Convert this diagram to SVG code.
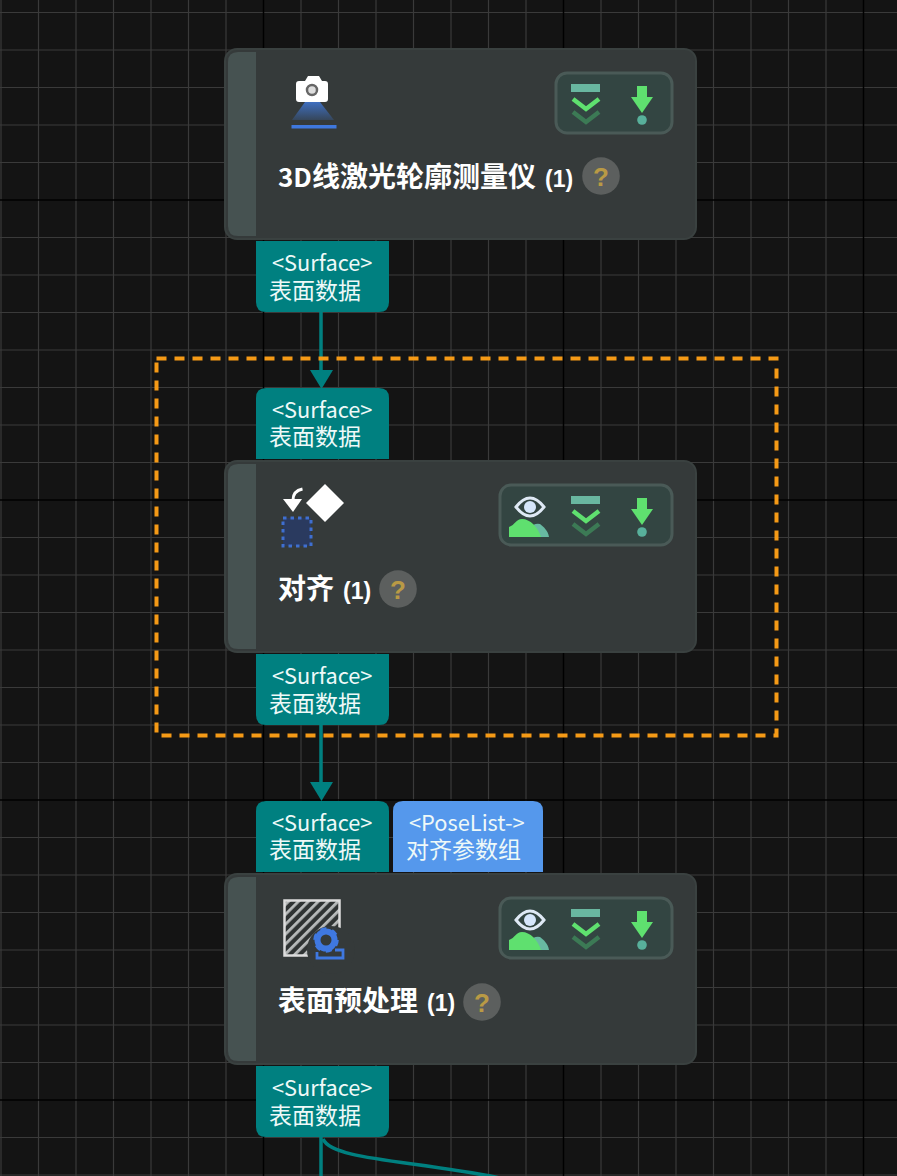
<svg xmlns="http://www.w3.org/2000/svg" width="897" height="1176" viewBox="0 0 897 1176">
<defs>
<style>
.minor{stroke:#3a3a3a;stroke-width:1.2;fill:none}
.major{stroke:#000;stroke-width:1.5;fill:none}
.body{fill:#353a3a;stroke:#3a4140;stroke-width:2}
.stripe{fill:#465251}
.tray{fill:#334542;stroke:#4a5a57;stroke-width:3}
.title{font-family:"Noto Sans CJK SC",sans-serif;font-size:28px;font-weight:700;fill:#fff}
.num{font-family:"Liberation Sans",sans-serif;font-size:23px;font-weight:700}
.port{font-family:"Noto Sans CJK SC",sans-serif;font-size:23px;fill:#eef9f8}
.tag{font-size:21.800px}
.q{font-family:"Liberation Sans",sans-serif;font-size:26px;font-weight:700;fill:#b99a45;text-anchor:middle}
.qb{fill:#5c5f5e}
.teal{fill:#008080}
.blue{fill:#5598ec}
.conn{stroke:#008080;stroke-width:3.500;fill:none}
.head{fill:#008080}
</style>
<linearGradient id="cone" x1="0" y1="0" x2="0" y2="1"><stop offset="0" stop-color="#3f6fc0"/><stop offset="1" stop-color="#36465a"/></linearGradient>
<pattern id="hatch" width="7" height="7" patternUnits="userSpaceOnUse" patternTransform="rotate(45)"><rect width="7" height="7" fill="#2f3333"/><rect width="2.800" height="7" fill="#b9bcbc"/></pattern>
<g id="chev"><rect x="-15" y="-19" width="29" height="8" fill="#69b7a0"/><path d="M-13-4L0 6 13-4" fill="none" stroke="#5fe06f" stroke-width="4.500"/><path d="M-13 9L0 19 13 9" fill="none" stroke="#3c7a55" stroke-width="4.500"/></g>
<g id="down"><path d="M-5-17H5V-6H11L0 10-11-6H-5Z" fill="#5fe06f"/><circle cx="0" cy="17" r="4.800" fill="#58b09b"/></g>
<g id="eye"><path d="M-14-8Q0-26 14-8Q0 10-14-8Z" fill="#334542" stroke="#dfe9f5" stroke-width="3"/><circle cx="0" cy="-8" r="6" fill="#d6e6fb"/><path d="M3 22V10Q7 8 10 9C14 12 18 16 19 22Z" fill="#68b9a2"/><path d="M-21 22V12C-15 10-14 4-8 4C0 4 8 12 11 22Z" fill="#5fe06f"/></g>
<g id="help"><circle r="18.800" class="qb"/><text y="9.500" class="q">?</text></g>
</defs>
<rect width="897" height="1176" fill="#141414"/>
<g id="grid">
<path class="minor" d="M1 0V1176M38.500 0V1176M76 0V1176M113.500 0V1176M151 0V1176M188.500 0V1176M226 0V1176M301 0V1176M338.500 0V1176M376 0V1176M413.500 0V1176M451 0V1176M488.500 0V1176M526 0V1176M601 0V1176M638.500 0V1176M676 0V1176M713.500 0V1176M751 0V1176M788.500 0V1176M826 0V1176"/>
<path class="minor" d="M0 12.500H897M0 50H897M0 87.500H897M0 125H897M0 162.500H897M0 237.500H897M0 275H897M0 312.500H897M0 350H897M0 387.500H897M0 425H897M0 462.500H897M0 537.500H897M0 575H897M0 612.500H897M0 650H897M0 687.500H897M0 725H897M0 762.500H897M0 837.500H897M0 875H897M0 912.500H897M0 950H897M0 987.500H897M0 1025H897M0 1062.500H897M0 1137.500H897M0 1175H897"/>
<path class="major" d="M263.500 0V1176M563.500 0V1176M863.500 0V1176M0 200H897M0 500H897M0 800H897M0 1100H897"/>
</g>
<g id="connectors">
<path class="conn" d="M321 312V372"/><path class="head" d="M310 370H333L321.500 389Z"/>
<path class="conn" d="M321 725V784"/><path class="head" d="M310 782H333L321.500 801Z"/>
<path class="conn" d="M321 1137V1176"/><path class="conn" d="M323 1139C332 1160 410 1160 500 1178"/>
</g>
<rect id="selection" x="156.500" y="358.500" width="620" height="377" fill="none" stroke="#f59a16" stroke-width="4" stroke-dasharray="10 8"/>
<g id="node-scanner">
<rect class="body" x="225" y="49" width="471" height="190" rx="12"/>
<path class="stripe" d="M256 52H238Q228 52 228 62V226Q228 236 238 236H256Z"/>
<g id="icon-camera"><path d="M305 102H320L334 120H292Z" fill="url(#cone)"/><path d="M296 84Q296 81 299 81H305L308 76H319L322 81H325Q328 81 328 84V99Q328 102 325 102H299Q296 102 296 99Z" fill="#fff"/><circle cx="312" cy="90" r="5" fill="#ddd" stroke="#666" stroke-width="2.500"/><rect x="291.500" y="125" width="45" height="3.500" fill="#3f78dd"/></g>
<rect class="tray" x="556" y="73" width="116" height="60" rx="11"/>
<use href="#chev" x="586" y="103"/><use href="#down" x="642" y="103"/>
<text class="title" x="278" y="187"><tspan font-size="26">3D</tspan>线激光轮廓测量仪 <tspan class="num" x="545">(1)</tspan></text>
<use href="#help" x="601" y="176"/>
</g>
<g id="port-scanner-out"><path class="teal" d="M256 241H389V302Q389 312 379 312H266Q256 312 256 302Z"/><text class="port"><tspan class="tag" x="272" y="271">&lt;Surface&gt;</tspan><tspan x="269" y="299">表面数据</tspan></text></g>
<g id="port-align-in"><path class="teal" d="M256 459V398Q256 388 266 388H379Q389 388 389 398V459Z"/><text class="port"><tspan class="tag" x="272" y="418">&lt;Surface&gt;</tspan><tspan x="269" y="445">表面数据</tspan></text></g>
<g id="node-align">
<rect class="body" x="225" y="461" width="471" height="191" rx="12"/>
<path class="stripe" d="M256 464H238Q228 464 228 474V639Q228 649 238 649H256Z"/>
<g id="icon-align"><path d="M325 484L344 503 325 522 306 503Z" fill="#fff"/><path d="M302.500 489Q293 491 293 500" fill="none" stroke="#fff" stroke-width="3"/><path d="M283 499H302L293 512Z" fill="#fff"/><rect x="283" y="518" width="28" height="28" fill="#2a3a5f" stroke="#3f6fd0" stroke-width="3" stroke-dasharray="3.500 4"/></g>
<rect class="tray" x="500" y="485" width="172" height="60" rx="11"/>
<use href="#eye" x="530" y="515"/><use href="#chev" x="586" y="515"/><use href="#down" x="642" y="515"/>
<text class="title" x="278" y="599">对齐 <tspan class="num" x="343">(1)</tspan></text>
<use href="#help" x="398" y="589"/>
</g>
<g id="port-align-out"><path class="teal" d="M256 654H389V715Q389 725 379 725H266Q256 725 256 715Z"/><text class="port"><tspan class="tag" x="272" y="684">&lt;Surface&gt;</tspan><tspan x="269" y="712">表面数据</tspan></text></g>
<g id="port-pre-in"><path class="teal" d="M256 872V811Q256 801 266 801H379Q389 801 389 811V872Z"/><text class="port"><tspan class="tag" x="272" y="831">&lt;Surface&gt;</tspan><tspan x="269" y="858">表面数据</tspan></text></g>
<g id="port-pre-pose"><path class="blue" d="M393 872V811Q393 801 403 801H533Q543 801 543 811V872Z"/><text class="port"><tspan class="tag" x="409" y="831">&lt;PoseList-&gt;</tspan><tspan x="406" y="858">对齐参数组</tspan></text></g>
<g id="node-preprocess">
<rect class="body" x="225" y="874" width="471" height="190" rx="12"/>
<path class="stripe" d="M256 877H238Q228 877 228 887V1051Q228 1061 238 1061H256Z"/>
<g id="icon-pre"><rect x="284.500" y="900.500" width="55" height="55" fill="url(#hatch)" stroke="#ddd" stroke-width="2.500"/><circle cx="331" cy="950" r="24" fill="#353a3a"/><circle cx="326" cy="940" r="8.500" fill="none" stroke="#3f78e0" stroke-width="6"/><circle cx="326" cy="940" r="11" fill="none" stroke="#3f78e0" stroke-width="3.500" stroke-dasharray="5.800 5.720"/><path d="M317 952V958H343V950H335" fill="none" stroke="#3f78e0" stroke-width="2.800"/></g>
<rect class="tray" x="500" y="898" width="172" height="60" rx="11"/>
<use href="#eye" x="530" y="928"/><use href="#chev" x="586" y="928"/><use href="#down" x="642" y="928"/>
<text class="title" x="278" y="1011">表面预处理 <tspan class="num" x="427">(1)</tspan></text>
<use href="#help" x="482" y="1002"/>
</g>
<g id="port-pre-out"><path class="teal" d="M256 1066H389V1127Q389 1137 379 1137H266Q256 1137 256 1127Z"/><text class="port"><tspan class="tag" x="272" y="1096">&lt;Surface&gt;</tspan><tspan x="269" y="1124">表面数据</tspan></text></g>
</svg>
